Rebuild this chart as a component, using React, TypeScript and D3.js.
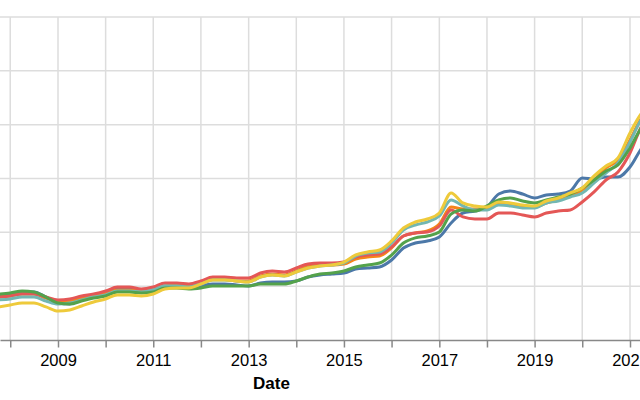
import { useEffect, useRef } from "react";
import * as d3 from "d3";

// Index over time, six series; the view is a crop of a wider chart, so the
// y-axis labels and the legend fall outside the 640x400 window.

const WIDTH = 640;
const HEIGHT = 400;
const AXIS_Y = 340;
const TOP_Y = 17;
const FONT = "'Liberation Sans', Arial, Helvetica, sans-serif";

const dates = [
  "2007-10",
  "2008-01", "2008-04", "2008-07", "2008-10",
  "2009-01", "2009-04", "2009-07", "2009-10",
  "2010-01", "2010-04", "2010-07", "2010-10",
  "2011-01", "2011-04", "2011-07", "2011-10",
  "2012-01", "2012-04", "2012-07", "2012-10",
  "2013-01", "2013-04", "2013-07", "2013-10",
  "2014-01", "2014-04", "2014-07", "2014-10",
  "2015-01", "2015-04", "2015-07", "2015-10",
  "2016-01", "2016-04", "2016-07", "2016-10",
  "2017-01", "2017-04", "2017-07", "2017-10",
  "2018-01", "2018-04", "2018-07", "2018-10",
  "2019-01", "2019-04", "2019-07", "2019-10",
  "2020-01", "2020-04", "2020-07", "2020-10",
  "2021-01", "2021-04", "2021-07",
];

const blueValues = [
  41.8, 42.7, 44.6, 44.6, 39.9, 34.4, 33.4, 37.2, 39.9, 42.7, 47.4, 47.4, 45.5, 46.4,
  50.2, 50.2, 49.2, 50.2, 52.0, 52.0, 51.1, 50.2, 52.9, 53.9, 53.9, 54.8, 58.5, 60.4,
  61.3, 62.2, 65.9, 66.9, 67.8, 74.3, 85.4, 90.1, 91.9, 95.7, 108.7, 118.0, 119.8, 123.5,
  135.6, 138.4, 135.6, 131.9, 134.7, 135.6, 138.4, 150.5, 149.5, 151.4, 151.4, 160.7, 178.3, 190.4,
];
const orangeValues = [
  39.9, 40.9, 42.7, 42.7, 39.0, 36.2, 36.2, 39.0, 41.8, 43.7, 46.4, 46.4, 45.5, 47.4,
  50.2, 51.1, 50.2, 52.9, 56.7, 56.7, 54.8, 54.8, 59.4, 61.3, 60.4, 64.1, 68.7, 69.7,
  69.7, 70.6, 75.2, 77.1, 78.0, 85.5, 96.6, 99.4, 101.2, 107.7, 123.5, 121.7, 121.7, 121.7,
  126.3, 126.3, 124.5, 123.5, 127.2, 130.1, 133.7, 139.3, 148.6, 159.8, 167.2, 185.8, 206.2, 213.6,
];
const redValues = [
  39.9, 40.9, 42.7, 42.7, 39.9, 37.2, 38.1, 40.9, 42.7, 45.5, 49.2, 49.2, 47.4, 49.2,
  52.9, 52.9, 52.0, 54.8, 58.5, 58.5, 57.6, 57.6, 62.2, 64.1, 63.2, 66.9, 70.6, 71.5,
  71.5, 72.4, 77.1, 79.0, 79.9, 86.4, 96.6, 99.4, 100.3, 105.9, 120.8, 114.3, 112.4, 112.4,
  118.0, 118.0, 116.1, 114.3, 118.0, 119.8, 120.8, 128.2, 137.5, 148.6, 156.1, 173.7, 198.8, 209.0,
];
const tealValues = [
  37.2, 38.1, 39.9, 39.9, 36.2, 33.4, 34.4, 37.2, 39.9, 41.8, 45.5, 45.5, 44.6, 46.4,
  50.2, 50.2, 49.2, 52.0, 55.7, 55.7, 54.8, 53.9, 58.5, 60.4, 59.5, 63.2, 66.9, 68.7,
  69.7, 71.5, 78.0, 80.8, 81.8, 90.1, 102.2, 106.8, 109.6, 115.2, 130.1, 124.5, 120.8, 120.8,
  125.4, 124.5, 122.6, 122.6, 127.3, 129.1, 132.8, 136.6, 145.9, 155.1, 164.4, 183.9, 205.3, 213.7,
];
const greenValues = [
  42.7, 43.7, 45.5, 44.6, 39.9, 34.4, 33.4, 36.2, 39.0, 40.9, 44.6, 44.6, 43.7, 44.6,
  48.3, 48.3, 47.4, 48.3, 50.2, 50.2, 50.2, 50.2, 52.0, 52.0, 52.0, 54.8, 58.5, 61.3,
  62.2, 64.1, 67.8, 69.7, 71.5, 78.9, 90.1, 94.8, 96.6, 100.3, 117.1, 120.8, 119.8, 124.5,
  130.1, 131.9, 129.1, 127.3, 130.1, 132.8, 135.6, 141.2, 148.6, 157.0, 162.6, 178.4, 197.8, 209.0,
];
const yellowValues = [
  30.7, 32.5, 34.4, 34.4, 30.7, 26.9, 27.9, 31.6, 35.3, 38.1, 41.8, 41.8, 40.9, 42.7,
  47.4, 48.3, 48.3, 52.0, 55.7, 55.7, 54.8, 53.9, 58.5, 60.4, 59.5, 63.2, 66.9, 68.7,
  69.7, 72.4, 79.0, 81.8, 83.6, 92.0, 104.0, 109.6, 112.4, 118.0, 136.6, 127.3, 124.5, 123.6,
  128.2, 127.3, 125.4, 124.5, 129.1, 131.9, 136.6, 141.2, 152.4, 161.6, 169.1, 192.3, 210.9, 218.3,
];

const series = [
  { name: "Series 1", color: "#4c78a8", values: blueValues },
  { name: "Series 2", color: "#f58518", values: orangeValues },
  { name: "Series 3", color: "#e45756", values: redValues },
  { name: "Series 4", color: "#72b7b2", values: tealValues },
  { name: "Series 5", color: "#54a24b", values: greenValues },
  { name: "Series 6", color: "#eeca3b", values: yellowValues },
];

const yTicks = [0, 50, 100, 150, 200, 250, 300];

export default function App() {
  const svgRef = useRef<SVGSVGElement>(null);

  useEffect(() => {
    const svg = d3.select(svgRef.current);
    svg.selectAll("*").remove();

    const parse = d3.timeParse("%Y-%m");
    const parsed = dates.map((d) => parse(d) as Date);

    // anchor 2009 and 2021 where the reference puts them, then widen to the window
    const anchor = d3
      .scaleTime()
      .domain([new Date(2009, 0, 1), new Date(2021, 0, 1)])
      .range([58, 630]);
    const x = d3
      .scaleTime()
      .domain([anchor.invert(0), anchor.invert(WIDTH)])
      .range([0, WIDTH]);

    const y = d3.scaleLinear().domain([0, 300]).range([AXIS_Y, TOP_Y]);

    const g = svg.append("g");

    // grid
    const years = x.ticks(d3.timeYear.every(1)!);
    g.append("g")
      .selectAll("line")
      .data(years)
      .join("line")
      .attr("x1", (d) => x(d))
      .attr("x2", (d) => x(d))
      .attr("y1", TOP_Y)
      .attr("y2", AXIS_Y)
      .attr("stroke", "#ddd")
      .attr("stroke-width", 1.5);

    g.append("g")
      .selectAll("line")
      .data(yTicks.slice(1))
      .join("line")
      .attr("x1", 0)
      .attr("x2", WIDTH)
      .attr("y1", (d) => y(d))
      .attr("y2", (d) => y(d))
      .attr("stroke", "#ddd")
      .attr("stroke-width", 1.5);

    // x axis, labels on odd years only
    const fmt = d3.timeFormat("%Y");
    g.append("g")
      .attr("transform", `translate(0,${AXIS_Y})`)
      .call(
        d3
          .axisBottom(x)
          .ticks(d3.timeYear.every(1)!)
          .tickSize(7.5)
          .tickSizeOuter(0)
          .tickPadding(7)
          .tickFormat((d) => {
            const dt = d as Date;
            return dt.getFullYear() % 2 === 1 ? fmt(dt) : "";
          }),
      )
      .call((sel) =>
        sel.select(".domain").attr("stroke", "#888").attr("stroke-width", 1.5),
      )
      .call((sel) =>
        sel.selectAll(".tick line").attr("stroke", "#888").attr("stroke-width", 1.5),
      )
      .call((sel) =>
        sel
          .selectAll("text")
          .attr("fill", "#000")
          .style("font-family", FONT)
          .style("font-size", "16.5px"),
      );

    g.append("text")
      .attr("x", 271.5)
      .attr("y", 389)
      .attr("text-anchor", "middle")
      .style("font-family", FONT)
      .style("font-size", "17px")
      .style("font-weight", "bold")
      .attr("fill", "#000")
      .text("Date");

    // lines
    const line = d3
      .line<number>()
      .x((_, i) => x(parsed[i]))
      .y((d) => y(d))
      .curve(d3.curveMonotoneX);

    g.append("g")
      .selectAll("path")
      .data(series)
      .join("path")
      .attr("fill", "none")
      .attr("stroke", (s) => s.color)
      .attr("stroke-width", 3)
      .attr("stroke-linejoin", "round")
      .attr("d", (s) => line(s.values));
  }, []);

  return (
    <div style={{ position: "absolute", left: 0, top: 0, width: WIDTH, height: HEIGHT, background: "#fff" }}>
      <svg ref={svgRef} width={WIDTH} height={HEIGHT} role="img" aria-label="Index by date" />
    </div>
  );
}
